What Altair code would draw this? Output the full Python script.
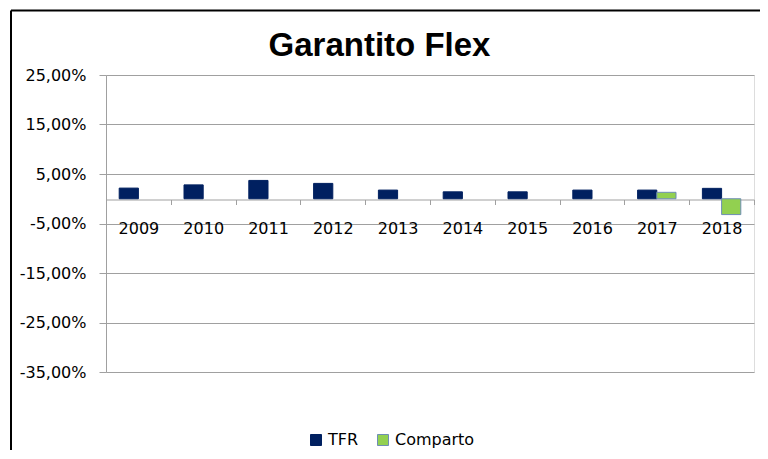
import altair as alt
import pandas as pd

years = ["2009", "2010", "2011", "2012", "2013", "2014", "2015", "2016", "2017", "2018"]
tfr = [0.0215, 0.028, 0.037, 0.031, 0.0175, 0.014, 0.014, 0.0175, 0.0175, 0.021]
comparto_years = ["2017", "2018"]
comparto = [0.013, -0.032]
series = ["TFR", "Comparto"]
colors = ["#002060", "#92D050"]
strokes = ["#002060", "#6E8DB5"]
y_ticks = [-0.35, -0.25, -0.15, -0.05, 0.05, 0.15, 0.25]
title_text = "Garantito Flex"

rows = [{"anno": y, "serie": "TFR", "valore": v} for y, v in zip(years, tfr)]
rows += [{"anno": y, "serie": "Comparto", "valore": v} for y, v in zip(comparto_years, comparto)]
df = pd.DataFrame(rows)

FONT = "DejaVu Sans"
GRID = "#a0a0a0"

label_expr = "replace(replace(format(datum.value, '.2%'), '.', ','), '\u2212', '-')"

bars = alt.Chart(df).mark_bar(strokeWidth=1).encode(
    x=alt.X("anno:N", sort=years,
            scale=alt.Scale(paddingInner=0, paddingOuter=0),
            axis=alt.Axis(title=None, orient="bottom", offset=-172.5, labelAngle=0,
                          tickBand="extent", tickSize=5, tickColor=GRID,
                          domainColor=GRID, labelFont=FONT, labelFontSize=16,
                          labelColor="#000000", labelPadding=16, grid=False)),
    xOffset=alt.XOffset("serie:N", sort=series,
                        scale=alt.Scale(domain=series, paddingInner=0, paddingOuter=0.6875)),
    y=alt.Y("valore:Q",
            scale=alt.Scale(domain=[-0.35, 0.25], nice=False, zero=False),
            axis=alt.Axis(title=None, values=y_ticks, labelExpr=label_expr,
                          labelFont=FONT, labelFontSize=16, labelColor="#000000",
                          tickSize=7, tickColor=GRID, domainColor=GRID,
                          gridColor=GRID, labelPadding=13)),
    color=alt.Color("serie:N", scale=alt.Scale(domain=series, range=colors),
                    legend=alt.Legend(title=None, orient="none", direction="horizontal",
                                      legendX=202, legendY=357, symbolType="square",
                                      symbolSize=121, labelFont=FONT, labelFontSize=16,
                                      labelColor="#000000", columnPadding=16,
                                      symbolStrokeWidth=1)),
    stroke=alt.Stroke("serie:N", scale=alt.Scale(domain=series, range=strokes), legend=None),
)

frame = alt.Chart(pd.DataFrame({"a": [0]}))
top_border = frame.mark_rule(color="#000000", strokeWidth=2).encode(
    x=alt.value(-95), x2=alt.value(662), y=alt.value(-64.5))
left_border = frame.mark_rule(color="#000000", strokeWidth=2).encode(
    x=alt.value(-95), y=alt.value(-64.5), y2=alt.value(384))
title = frame.mark_text(font="Liberation Sans", fontSize=33, fontWeight="bold",
                        color="#000000", align="center", baseline="alphabetic").encode(
    x=alt.value(273.5), y=alt.value(-19), text=alt.value(title_text))

chart = alt.layer(bars, top_border, left_border, title).properties(
    width=648, height=297,
    autosize=alt.AutoSizeParams(type="none"),
    padding={"left": 98, "top": 67, "right": 6, "bottom": 78},
).configure_view(stroke=None).configure(background="#ffffff")

chart.save("out.html", embed_options={"renderer": "svg", "actions": False})
